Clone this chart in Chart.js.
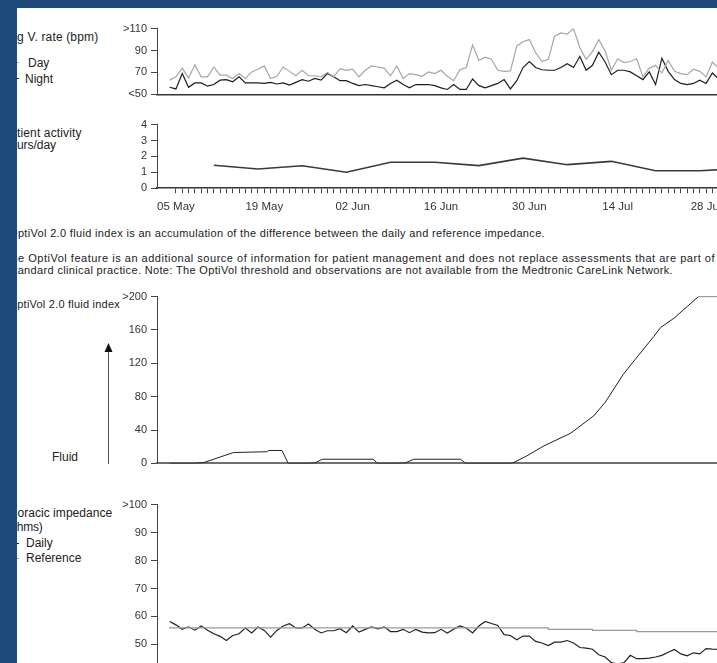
<!DOCTYPE html>
<html>
<head>
<meta charset="utf-8">
<script src="https://cdn.jsdelivr.net/npm/chart.js@4.4.1/dist/chart.umd.min.js"></script>
<style>
  html, body { margin: 0; padding: 0; width: 717px; height: 663px; overflow: hidden; background: #fff; }
  body { position: relative; font-family: "Liberation Sans", Arial, sans-serif; color: #222; }
  .t { position: absolute; white-space: nowrap; font-size: 12px; line-height: 14px; }
  .s { font-size: 11px; line-height: 12px; }
  .mark { position: absolute; left: 8px; width: 11px; height: 1px; }
  canvas { position: absolute; }
  #edgeTop { position: absolute; left: 0; top: 0; width: 717px; height: 8px; background: #1f4a7c; z-index: 5; }
  #edgeLeft { position: absolute; left: 0; top: 0; width: 17px; height: 663px; background: #1f4a7c; z-index: 5; }
</style>
</head>
<body>
<div class="t fit" data-l="3" data-r="98.3" style="top:30px">Avg V. rate (bpm)</div>
<div class="mark" style="top:62px; background:#a6a6a6"></div>
<div class="t" style="left:28px; top:56px">Day</div>
<div class="mark" style="top:78px; background:#1e1e1e"></div>
<div class="t" style="left:25px; top:72px">Night</div>

<div class="t fit" data-l="2" data-r="81.7" style="top:126px">Patient activity</div>
<div class="t fit" data-l="3.7" data-r="56" style="top:138px">hours/day</div>

<div class="t s fit" data-l="9" data-r="545" style="top:226.5px">OptiVol 2.0 fluid index is an accumulation of the difference between the daily and reference impedance.</div>
<div class="t s fit" data-l="4.2" data-r="715" style="top:252px">The OptiVol feature is an additional source of information for patient management and does not replace assessments that are part of</div>
<div class="t s fit" data-l="8.4" data-r="673" style="top:263.5px">standard clinical practice. Note: The OptiVol threshold and observations are not available from the Medtronic CareLink Network.</div>

<div class="t s fit" data-l="8.5" data-r="120" style="top:298px">OptiVol 2.0 fluid index</div>
<svg style="position:absolute; left:100px; top:340px" width="20" height="130">
  <line x1="8.5" y1="10" x2="8.5" y2="124" stroke="#555" stroke-width="1"/>
  <polygon points="4.5,12 12.5,12 8.5,3" fill="#111"/>
</svg>
<div class="t" style="left:52px; top:450px">Fluid</div>

<div class="t fit" data-l="3.3" data-r="112.3" style="top:506px">Thoracic impedance</div>
<div class="t fit" data-l="6.3" data-r="42.7" style="top:520px">(ohms)</div>
<div class="mark" style="top:543px; background:#1e1e1e"></div>
<div class="t" style="left:26px; top:536px">Daily</div>
<div class="mark" style="top:558px; background:#9a9a9a"></div>
<div class="t" style="left:26px; top:551px">Reference</div>

<canvas id="rateChart"></canvas>
<canvas id="activityChart"></canvas>
<canvas id="fluidChart"></canvas>
<canvas id="impedanceChart"></canvas>

<div id="edgeTop"></div>
<div id="edgeLeft"></div>

<script>
// x values are days counted from 01 May (4 = 05 May)
const dateTickDays = [4, 18, 32, 46, 60, 74, 88];
const dateTickLabels = ['05 May', '19 May', '02 Jun', '16 Jun', '30 Jun', '14 Jul', '28 Jul'];

// Avg V. rate (bpm), one value per day starting 04 May
const rateStartDay = 3;
const rateDay = [
  63, 66, 74, 65, 77, 66, 66, 75, 67.5, 67.5,
  64.5, 69, 64.5, 70.5, 73, 76, 64.5, 66.5, 75, 71,
  67, 72, 67, 67, 66, 70, 66, 73.5, 72, 73,
  66, 72, 76, 75, 74, 67, 76, 64.5, 69, 68,
  66.5, 70.5, 69, 72, 66.5, 62.5, 72.5, 74.5, 95, 81,
  84, 82, 72, 71, 71.5, 94, 98, 100, 88, 80,
  82, 103, 106, 105, 110, 92.5, 82, 89, 100, 89.5,
  72, 82.5, 79, 80, 82.5, 66, 74, 76.5, 69.5, 81,
  71, 69, 68, 73, 71, 66, 79.5, 74
];
const rateNight = [
  56.5, 55, 69, 56.5, 60.5, 60.5, 57.5, 59, 63, 63.5,
  61.5, 66, 60.5, 60.5, 60.5, 60, 61, 59.5, 60.5, 58.5,
  61, 63.5, 62, 64.5, 63, 69, 66, 62.5, 62.5, 60,
  58, 59, 58, 57, 56, 60, 63, 59, 56, 59,
  59, 59, 58, 56, 54.5, 59, 54.5, 54.5, 64, 58,
  56, 58, 60, 63.5, 55, 62.5, 74.5, 80, 74.5, 72.5,
  72, 72, 74.5, 78, 74.5, 84.5, 72, 76.5, 88.5, 79.5,
  68, 72, 72, 70.5, 67, 63.5, 70.5, 59, 83, 71,
  63.5, 60, 59, 60, 63, 60, 69.5, 64
];
const rateTickValues = [50, 70, 90, 110];
const rateTickLabels = ['<50', '70', '90', '>110'];

// Patient activity (hours/day), weekly
const activityDays = [10, 17, 24, 31, 38, 45, 52, 59, 66, 73, 80, 87, 94];
const activityHours = [1.44, 1.21, 1.41, 1.0, 1.63, 1.63, 1.42, 1.89, 1.48, 1.69, 1.1, 1.1, 1.25];
const activityTickValues = [0, 1, 2, 3, 4];
const activityTickLabels = ['0', '1', '2', '3', '4'];

// OptiVol 2.0 fluid index
const fluidDays = [3, 6.6, 8.4, 13.1, 18.4, 18.7, 20.8, 21.8, 24.5, 26, 27.2, 35.3, 35.9,
  38.4, 40.3, 41.7, 49.1, 49.9, 57, 57.5, 59.6, 62.3, 66.5, 70.2, 72, 74.9, 76.8,
  79.7, 80.8, 82.9, 85, 86.8, 91];
const fluidIndex = [0, 0, 1, 13, 14, 15.5, 15.5, 0, 0, 0.5, 5, 5, 0,
  0, 0.5, 5, 5, 0, 0, 1, 9, 21, 36, 57, 73, 107, 125,
  152, 163, 174, 188, 200, 200];
const fluidTickValues = [0, 40, 80, 120, 160, 200];
const fluidTickLabels = ['0', '40', '80', '120', '160', '>200'];

// Thoracic impedance (ohms), daily starting 04 May
const impStartDay = 3;
const impDaily = [
  58.2, 57.0, 55.4, 56.3, 55.1, 56.6, 55.1, 53.8, 52.9, 51.4,
  53.2, 53.8, 55.9, 54.1, 56.2, 55.0, 52.6, 55.0, 56.6, 57.4,
  55.9, 55.9, 57.3, 55.4, 54.1, 54.9, 54.9, 55.6, 54.2, 56.6,
  54.4, 55.4, 56.3, 55.6, 56.3, 54.6, 54.6, 55.4, 54.2, 55.4,
  54.4, 54.1, 54.2, 55.4, 54.1, 55.4, 56.6, 55.9, 54.1, 56.6,
  58.2, 57.5, 56.8, 53.5, 53.2, 51.7, 53.0, 53.0, 51.1, 50.5,
  49.6, 50.8, 50.8, 51.4, 50.5, 48.9, 48.7, 48.3, 46.3, 45.5,
  43.5, 43.0, 43.5, 46.1, 44.9, 44.9, 45.1, 45.5, 46.1, 47.2,
  48.2, 46.6, 45.9, 47.0, 46.6, 48.5, 48.3, 48.2
];
const impRefDays = [3, 63, 70, 77, 84, 91];
const impReference = [56.2, 55.9, 55.4, 55.0, 54.6, 54.6];
const impTickValues = [40, 50, 60, 70, 80, 90, 100];
const impTickLabels = ['<40', '50', '60', '70', '80', '90', '>100'];

// fit the cut-off labels between their left and right edges
document.querySelectorAll('.fit').forEach(el => {
  const l = +el.dataset.l, r = +el.dataset.r;
  const w = el.getBoundingClientRect().width;
  el.style.letterSpacing = ((r - l - w) / el.textContent.length) + 'px';
  el.style.left = l + 'px';
});

const tickFont = { family: '"Liberation Sans", Arial, sans-serif', size: 11 };

function dayAxis(labelled, borderColor, borderWidth) {
  return {
    type: 'linear', min: 1, max: 91,
    ticks: {
      display: labelled, stepSize: 1, autoSkip: false, maxRotation: 0, minRotation: 0,
      padding: 7, color: '#333', font: { family: tickFont.family, size: 11.5 },
      callback: v => { const i = dateTickDays.indexOf(v); return i < 0 ? '' : dateTickLabels[i]; }
    },
    grid: {
      display: labelled, drawOnChartArea: false, tickLength: 5,
      tickColor: c => (c.tick && c.tick.value >= 4) ? '#444' : 'rgba(0,0,0,0)'
    },
    border: { color: borderColor, width: borderWidth }
  };
}

function valueAxis(min, max, values, labels) {
  return {
    type: 'linear', min: min, max: max,
    afterBuildTicks: s => { s.ticks = values.map(v => ({ value: v })); },
    afterFit: s => { s.width = 48; },
    ticks: {
      autoSkip: false, padding: 4, color: '#333', font: tickFont,
      callback: v => labels[values.indexOf(v)]
    },
    grid: { drawOnChartArea: false, tickLength: 6, color: '#444' },
    border: { color: '#444', width: 1 }
  };
}

function line(points, color, width, extra) {
  return Object.assign({
    data: points, borderColor: color, borderWidth: width,
    pointRadius: 0, tension: 0, fill: false
  }, extra || {});
}

function baseOptions(x, y) {
  return {
    responsive: false, animation: false, events: [],
    layout: { padding: 0 },
    plugins: { legend: { display: false }, tooltip: { enabled: false } },
    scales: { x: x, y: y }
  };
}

// build once to measure, then size/position the canvas so the plot area
// lands on the wanted page pixels
function placeChart(id, makeConfig, area) {
  const canvas = document.getElementById(id);
  canvas.width = 613; canvas.height = 220;
  let chart = new Chart(canvas, makeConfig());
  const a = chart.chartArea;
  const w = Math.round(a.left + (area.right - area.left) + (chart.width - a.right));
  const h = Math.round(a.top + (area.bottom - area.top) + (chart.height - a.bottom));
  const left = area.left - a.left, top = area.top - a.top;
  chart.destroy();
  canvas.width = w; canvas.height = h;
  canvas.style.left = left + 'px';
  canvas.style.top = top + 'px';
  return new Chart(canvas, makeConfig());
}

placeChart('rateChart', () => ({
  type: 'line',
  data: {
    datasets: [
      line(rateDay.map((v, i) => ({ x: rateStartDay + i, y: v })), '#a6a6a6', 1.2),
      line(rateNight.map((v, i) => ({ x: rateStartDay + i, y: v })), '#1e1e1e', 1.2)
    ]
  },
  options: baseOptions(dayAxis(false, '#333', 1.5), valueAxis(50, 110, rateTickValues, rateTickLabels))
}), { left: 157, right: 725, top: 29, bottom: 95 });

placeChart('activityChart', () => ({
  type: 'line',
  data: {
    datasets: [line(activityDays.map((d, i) => ({ x: d, y: activityHours[i] })), '#3a3a3a', 1.6)]
  },
  options: baseOptions(dayAxis(true, '#333', 1.5), valueAxis(0, 4, activityTickValues, activityTickLabels))
}), { left: 157, right: 725, top: 125, bottom: 189 });

placeChart('fluidChart', () => ({
  type: 'line',
  data: {
    datasets: [line(fluidDays.map((d, i) => ({ x: d, y: fluidIndex[i] })), '#222', 1)]
  },
  options: baseOptions(dayAxis(false, '#707070', 2), valueAxis(0, 200, fluidTickValues, fluidTickLabels))
}), { left: 157, right: 725, top: 297, bottom: 464 });

placeChart('impedanceChart', () => ({
  type: 'line',
  data: {
    datasets: [
      line(impRefDays.map((d, i) => ({ x: d, y: impReference[i] })), '#9a9a9a', 1.2, { stepped: 'after' }),
      line(impDaily.map((v, i) => ({ x: impStartDay + i, y: v })), '#222', 1.2)
    ]
  },
  options: baseOptions(dayAxis(false, '#333', 1.5), valueAxis(40, 100, impTickValues, impTickLabels))
}), { left: 157, right: 725, top: 505, bottom: 673 });
</script>
</body>
</html>
